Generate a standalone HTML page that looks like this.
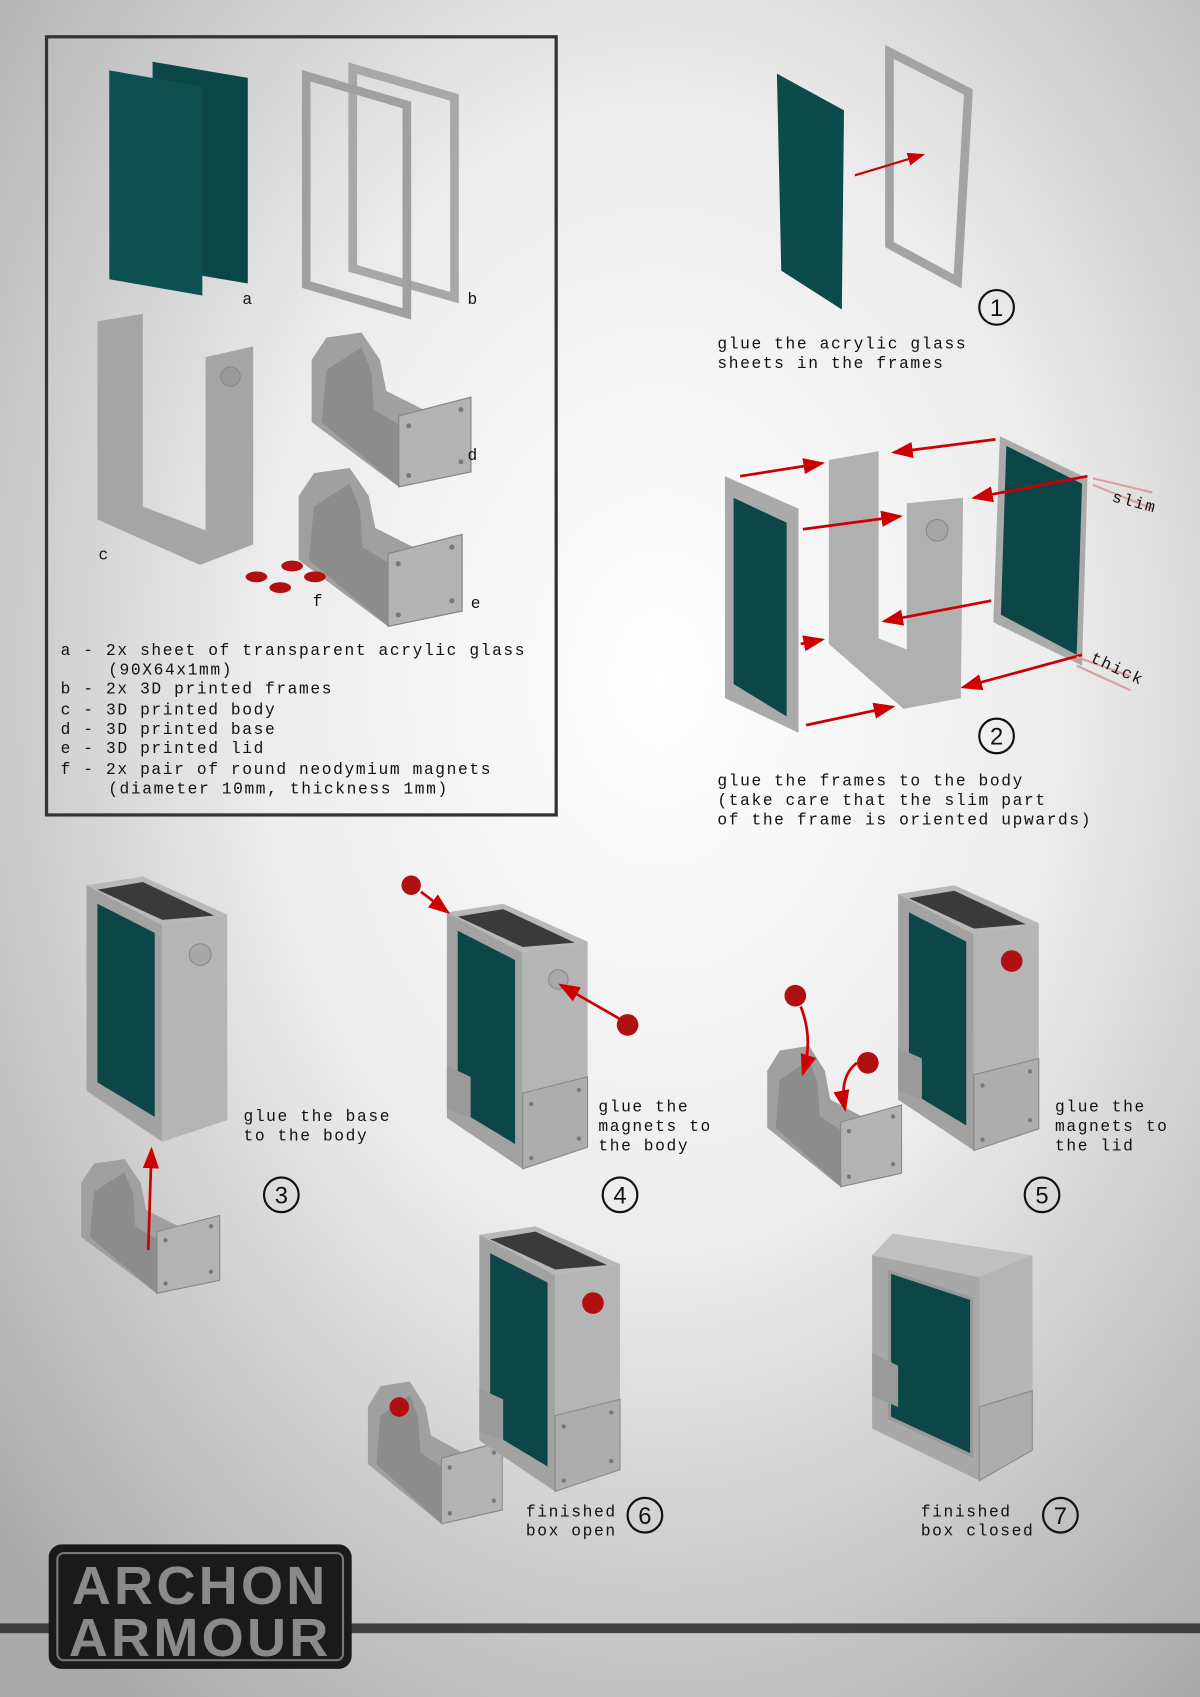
<!DOCTYPE html>
<html><head><meta charset="utf-8"><style>
html,body{margin:0;padding:0;width:1200px;height:1697px;overflow:hidden;}
svg{display:block}
text{font-family:"Liberation Mono","DejaVu Sans Mono",monospace;font-size:15px;fill:#111;letter-spacing:1.5px}
.n{font-family:"Liberation Sans",sans-serif;font-size:22px;text-anchor:middle;letter-spacing:0}
</style></head><body>
<svg width="1200" height="1697" viewBox="0 0 1109 1568" preserveAspectRatio="none" xmlns="http://www.w3.org/2000/svg">
<defs>
<radialGradient id="bg" cx="0.55" cy="0.4" r="0.75">
<stop offset="0" stop-color="#ffffff"/><stop offset="0.45" stop-color="#ececec"/><stop offset="1" stop-color="#a9a9a9"/>
</radialGradient>
<marker id="ar" markerWidth="8" markerHeight="8" refX="7" refY="4" orient="auto" markerUnits="strokeWidth"><path d="M0,1 L8,4 L0,7 Z" fill="#c00"/></marker>
<g id="box">
<polygon points="0,8 52,0 130,35 70,45" fill="#b8b8b8"/>
<polygon points="10,12 52,5 118,36 70,40" fill="#3a3a3a"/>
<polygon points="0,8 70,45 70,245 0,198" fill="#a2a2a2"/>
<polygon points="70,45 130,35 130,225 70,245" fill="#b5b5b5"/>
<polygon points="10,25 63,52 63,222 10,190" fill="#0d4646"/>
</g>
<g id="plates">
<polygon points="0,150 22,160 22,198 0,190" fill="#9a9a9a"/>
<polygon points="70,175 130,160 130,225 70,245" fill="#adadad" stroke="#888"/>
<circle cx="78" cy="185" r="2" fill="#777"/><circle cx="122" cy="172" r="2" fill="#777"/><circle cx="78" cy="235" r="2" fill="#777"/><circle cx="122" cy="217" r="2" fill="#777"/>
</g>
<g id="tray">
<path d="M0,30 L12,12 L40,8 L55,30 L60,55 L90,70 L128,60 L128,120 L70,132 L0,80 Z" fill="#a0a0a0"/>
<path d="M12,38 L40,20 L48,40 L50,70 L75,85 L70,132 L8,80 Z" fill="#8c8c8c"/>
<polygon points="70,75 128,60 128,120 70,132" fill="#b3b3b3" stroke="#888"/>
<circle cx="78" cy="83" r="2" fill="#777"/><circle cx="120" cy="70" r="2" fill="#777"/><circle cx="78" cy="123" r="2" fill="#777"/><circle cx="120" cy="112" r="2" fill="#777"/>
</g>
</defs>
<rect width="1109" height="1568" fill="url(#bg)"/>
<rect x="43" y="34" width="471" height="719" fill="none" stroke="#333" stroke-width="3"/>
<polygon points="141,57 229,72 229,262 141,247" fill="#0c4747"/>
<polygon points="101,65 187,80 187,273 101,258" fill="#0e4f4f"/>
<polygon points="326,63 420,90 420,275 326,248" fill="none" stroke="#a8a8a8" stroke-width="8"/>
<polygon points="283,70 376,97 376,290 283,263" fill="none" stroke="#a0a0a0" stroke-width="8"/>
<path d="M90,297 L132,290 L132,468 L190,490 L190,330 L234,320 L234,503 L185,522 L90,480 Z" fill="#a5a5a5"/>
<circle cx="213" cy="348" r="9" fill="#999" stroke="#888"/>
<use href="#tray" transform="translate(288,298) scale(1.15)"/>
<use href="#tray" transform="translate(276,423) scale(1.18)"/>
<g fill="#b01010"><ellipse cx="237" cy="533" rx="10" ry="5"/><ellipse cx="270" cy="523" rx="10" ry="5"/><ellipse cx="259" cy="543" rx="10" ry="5"/><ellipse cx="291" cy="533" rx="10" ry="5"/></g>
<text x="224" y="281">a</text><text x="432" y="281">b</text><text x="91" y="517">c</text><text x="432" y="425">d</text><text x="435" y="562">e</text><text x="289" y="560">f</text>
<text x="56" y="605">a - 2x sheet of transparent acrylic glass</text>
<text x="100" y="623">(90X64x1mm)</text>
<text x="56" y="641">b - 2x 3D printed frames</text>
<text x="56" y="660">c - 3D printed body</text>
<text x="56" y="678">d - 3D printed base</text>
<text x="56" y="696">e - 3D printed lid</text>
<text x="56" y="715">f - 2x pair of round neodymium magnets</text>
<text x="100" y="733">(diameter 10mm, thickness 1mm)</text>
<polygon points="718,68 780,102 778,286 722,250" fill="#0d4a4a"/>
<polygon points="822,48 895,85 885,260 822,226" fill="none" stroke="#a3a3a3" stroke-width="8"/>
<line x1="790" y1="162" x2="853" y2="143" stroke="#c00" stroke-width="2" marker-end="url(#ar)"/>
<circle cx="921" cy="284" r="16" fill="none" stroke="#111" stroke-width="2"/><text class="n" x="921" y="292">1</text>
<text x="663" y="322">glue the acrylic glass</text><text x="663" y="340">sheets in the frames</text>
<polygon points="670,440 738,470 738,677 670,645" fill="#aaa"/>
<polygon points="678,460 727,483 727,662 678,632" fill="#0d4646"/>
<path d="M766,425 L812,417 L812,590 L838,600 L838,465 L890,460 L888,645 L835,655 L766,595 Z" fill="#b0b0b0"/>
<circle cx="866" cy="490" r="10" fill="#a5a5a5" stroke="#888"/>
<polygon points="924,403 1005,442 1000,615 918,575" fill="#aaa"/>
<polygon points="930,412 1000,447 995,605 925,568" fill="#0d4646"/>
<g stroke="#c00" stroke-width="2.5" marker-end="url(#ar)">
<line x1="684" y1="440" x2="760" y2="428"/><line x1="920" y1="406" x2="826" y2="418"/>
<line x1="742" y1="489" x2="832" y2="477"/><line x1="1005" y1="440" x2="900" y2="460"/>
<line x1="916" y1="555" x2="817" y2="574"/><line x1="740" y1="595" x2="760" y2="591"/>
<line x1="1000" y1="605" x2="890" y2="635"/><line x1="745" y1="670" x2="825" y2="653"/>
</g>
<line x1="1010" y1="442" x2="1065" y2="455" stroke="#d9a0a0" stroke-width="2"/><line x1="1010" y1="448" x2="1065" y2="470" stroke="#d9a0a0" stroke-width="2"/>
<line x1="995" y1="607" x2="1045" y2="625" stroke="#d9a0a0" stroke-width="2"/><line x1="995" y1="615" x2="1045" y2="638" stroke="#d9a0a0" stroke-width="2"/>
<text x="1027" y="463" transform="rotate(15 1027 463)">slim</text>
<text x="1007" y="611" transform="rotate(25 1007 611)">thick</text>
<circle cx="921" cy="680" r="16" fill="none" stroke="#111" stroke-width="2"/><text class="n" x="921" y="688">2</text>
<text x="663" y="726">glue the frames to the body</text><text x="663" y="744">(take care that the slim part</text><text x="663" y="762">of the frame is oriented upwards)</text>
<use href="#box" transform="translate(80,810)"/>
<circle cx="185" cy="882" r="10" fill="#a8a8a8" stroke="#888"/>
<use href="#tray" transform="translate(75,1063)"/>
<line x1="137" y1="1155" x2="140" y2="1062" stroke="#c00" stroke-width="2.5" marker-end="url(#ar)"/>
<text x="225" y="1036">glue the base</text><text x="225" y="1054">to the body</text>
<circle cx="260" cy="1104" r="16" fill="none" stroke="#111" stroke-width="2"/><text class="n" x="260" y="1112">3</text>
<use href="#box" transform="translate(413,835)"/><use href="#plates" transform="translate(413,835)"/>
<circle cx="516" cy="905" r="9" fill="#a8a8a8" stroke="#888"/>
<circle cx="380" cy="818" r="9" fill="#b01010"/><circle cx="580" cy="947" r="10" fill="#b01010"/>
<line x1="389" y1="824" x2="414" y2="843" stroke="#c00" stroke-width="2.5" marker-end="url(#ar)"/>
<line x1="572" y1="941" x2="518" y2="910" stroke="#c00" stroke-width="2.5" marker-end="url(#ar)"/>
<text x="553" y="1027">glue the</text><text x="553" y="1045">magnets to</text><text x="553" y="1063">the body</text>
<circle cx="573" cy="1104" r="16" fill="none" stroke="#111" stroke-width="2"/><text class="n" x="573" y="1112">4</text>
<use href="#tray" transform="translate(709,958) scale(0.97,1.05)"/>
<use href="#box" transform="translate(830,818)"/><use href="#plates" transform="translate(830,818)"/>
<circle cx="935" cy="888" r="10" fill="#b01010"/>
<circle cx="735" cy="920" r="10" fill="#b01010"/><circle cx="802" cy="982" r="10" fill="#b01010"/>
<path d="M740,930 Q752,960 742,992" fill="none" stroke="#c00" stroke-width="2.5" marker-end="url(#ar)"/>
<path d="M792,982 Q775,995 781,1025" fill="none" stroke="#c00" stroke-width="2.5" marker-end="url(#ar)"/>
<text x="975" y="1027">glue the</text><text x="975" y="1045">magnets to</text><text x="975" y="1063">the lid</text>
<circle cx="963" cy="1104" r="16" fill="none" stroke="#111" stroke-width="2"/><text class="n" x="963" y="1112">5</text>
<use href="#tray" transform="translate(340,1268) scale(0.97,1.06)"/>
<circle cx="369" cy="1300" r="9" fill="#b01010"/>
<use href="#box" transform="translate(443,1133)"/><use href="#plates" transform="translate(443,1133)"/>
<circle cx="548" cy="1204" r="10" fill="#b01010"/>
<text x="486" y="1401">finished</text><text x="486" y="1419">box open</text>
<circle cx="596" cy="1400" r="16" fill="none" stroke="#111" stroke-width="2"/><text class="n" x="596" y="1408">6</text>
<polygon points="806,1160 825,1140 954,1160 954,1340 905,1368 806,1320" fill="#a8a8a8"/>
<polygon points="806,1160 825,1140 954,1160 905,1180" fill="#c0c0c0"/>
<polygon points="905,1180 954,1160 954,1340 905,1368" fill="#b5b5b5"/>
<polygon points="822,1175 898,1200 898,1345 822,1310" fill="#0d4646" stroke="#999" stroke-width="3"/>
<polygon points="806,1250 830,1262 830,1300 806,1290" fill="#9a9a9a"/>
<polygon points="905,1300 954,1285 954,1340 905,1368" fill="#adadad" stroke="#888"/>
<text x="851" y="1401">finished</text><text x="851" y="1419">box closed</text>
<circle cx="980" cy="1400" r="16" fill="none" stroke="#111" stroke-width="2"/><text class="n" x="980" y="1408">7</text>
<rect x="0" y="1500" width="1109" height="9" fill="#2a2a2a" opacity="0.85"/>
<rect x="45" y="1427" width="280" height="115" rx="12" fill="#1a1a1a"/>
<rect x="53" y="1435" width="264" height="99" rx="6" fill="none" stroke="#777" stroke-width="2"/>
<text x="185" y="1482" style="font-family:'Liberation Sans',sans-serif;font-weight:bold;font-size:50px;fill:#8a8a8a;letter-spacing:3px;text-anchor:middle">ARCHON</text>
<text x="185" y="1530" style="font-family:'Liberation Sans',sans-serif;font-weight:bold;font-size:50px;fill:#8a8a8a;letter-spacing:3px;text-anchor:middle">ARMOUR</text>
</svg>
</body></html>
